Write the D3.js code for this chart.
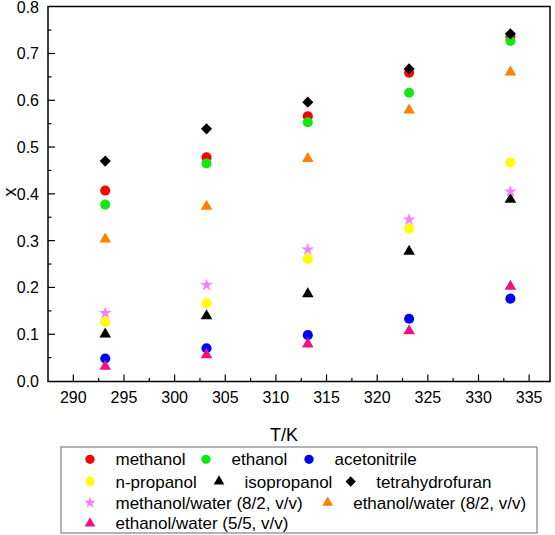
<!DOCTYPE html>
<html>
<head>
<meta charset="utf-8">
<script src="https://cdn.jsdelivr.net/npm/d3@7"></script>
<style>
  html, body { margin: 0; padding: 0; background: #fff; }
  text { font-family: "Liberation Sans", Arial, sans-serif; fill: #000; }
</style>
</head>
<body>
<svg id="chart" width="555" height="535"></svg>
<script>
// ---- data ----
const temperatures = [293.15, 303.15, 313.15, 323.15, 333.15];
const solvents = ["methanol", "ethanol", "acetonitrile", "n-propanol", "isopropanol",
  "tetrahydrofuran", "methanol/water (8/2, v/v)", "ethanol/water (8/2, v/v)", "ethanol/water (5/5, v/v)"];
const methanol      = [0.407, 0.478, 0.566, 0.659, 0.735];
const ethanol       = [0.377, 0.465, 0.553, 0.616, 0.727];
const acetonitrile  = [0.048, 0.070, 0.098, 0.133, 0.176];
const nPropanol     = [0.126, 0.166, 0.261, 0.326, 0.467];
const isopropanol   = [0.100, 0.139, 0.186, 0.277, 0.388];
const thf           = [0.470, 0.539, 0.596, 0.667, 0.742];
const methanolWater82 = [0.145, 0.205, 0.281, 0.345, 0.405];
const ethanolWater82  = [0.303, 0.373, 0.475, 0.579, 0.660];
const ethanolWater55  = [0.031, 0.056, 0.079, 0.107, 0.202];
const seriesValues = [methanol, ethanol, acetonitrile, nPropanol, isopropanol, thf,
  methanolWater82, ethanolWater82, ethanolWater55];
const xTicks = [290, 295, 300, 305, 310, 315, 320, 325, 330, 335];
const yTicks = [0.0, 0.1, 0.2, 0.3, 0.4, 0.5, 0.6, 0.7, 0.8];

// ---- styles ----
const colors = ["#ff0000", "#14e614", "#0000ff", "#ffff00", "#000000", "#000000", "#f582f5", "#ff8000", "#f0137f"];
const shapes = ["circle", "circle", "circle", "circle", "triangle", "diamond", "star", "triangle", "triangle"];

const svg = d3.select("#chart");
const L = 48, R = 550, T = 6.5, B = 381.5;
const x = d3.scaleLinear().domain([287.5, 337.06]).range([L, R]);
const y = d3.scaleLinear().domain([0, 0.8]).range([381, 6.7]);

function symbolPath(shape, big) {
  const k = big ? 1 : 0.85;
  if (shape === "circle") return d3.symbol(d3.symbolCircle, 80 * k)();
  if (shape === "triangle") return d3.symbol(d3.symbolTriangle, 58 * k)();
  if (shape === "diamond") return d3.symbol(d3.symbolSquare, 62 * k)();
  if (shape === "star") return d3.symbol(d3.symbolStar, 50 * k)();
}
function transformFor(shape, px, py) {
  return `translate(${px},${py})` + (shape === "diamond" ? " rotate(45)" : "");
}

// axes (ticks inward)
const xAxis = d3.axisBottom(x).tickValues(d3.range(287.5, 337.1, 2.5)).tickSize(0).tickFormat("");
const gx = svg.append("g");
d3.range(290, 337.1, 2.5).forEach(v => {
  const major = Math.abs(v % 5) < 1e-6;
  gx.append("line").attr("x1", x(v)).attr("x2", x(v))
    .attr("y1", B).attr("y2", B - (major ? 7 : 3.5))
    .attr("stroke", "#000").attr("stroke-width", 1.2);
});
gx.selectAll("text.xt").data(xTicks).enter().append("text")
  .attr("x", d => x(d)).attr("y", 403).attr("text-anchor", "middle")
  .attr("font-size", 16).text(d => d);

const gy = svg.append("g");
d3.range(0.05, 0.8, 0.05).forEach(v => {
  const major = Math.abs((v * 10) - Math.round(v * 10)) < 1e-6;
  gy.append("line").attr("x1", L).attr("x2", L + (major ? 7 : 3.5))
    .attr("y1", y(v)).attr("y2", y(v))
    .attr("stroke", "#000").attr("stroke-width", 1.2);
});
gy.selectAll("text.yt").data(yTicks).enter().append("text")
  .attr("x", 39).attr("y", d => y(d) + 6).attr("text-anchor", "end")
  .attr("font-size", 16).text(d => d.toFixed(1));

// frame
svg.append("rect").attr("x", L).attr("y", T).attr("width", R - L).attr("height", B - T)
  .attr("fill", "none").attr("stroke", "#000").attr("stroke-width", 1.5);

// axis titles
svg.append("text").attr("x", 284).attr("y", 441).attr("text-anchor", "middle")
  .attr("font-size", 18).text("T/K");
svg.append("text").attr("transform", "translate(16,192) rotate(-90)")
  .attr("text-anchor", "middle").attr("font-size", 18).text("x");

// points
seriesValues.forEach((vals, i) => {
  svg.append("g").selectAll("path").data(vals).enter().append("path")
    .attr("d", symbolPath(shapes[i], true))
    .attr("transform", (d, j) => transformFor(shapes[i], x(temperatures[j]), y(d)))
    .attr("fill", colors[i]);
});

// legend
const legendBox = { x: 61, y: 447, w: 476, h: 86 };
svg.append("rect").attr("x", legendBox.x).attr("y", legendBox.y)
  .attr("width", legendBox.w).attr("height", legendBox.h)
  .attr("fill", "#fff").attr("stroke", "#808080").attr("stroke-width", 1.2);
const legendRows = [459.3, 481.5, 502.7, 523.3];
const legendLayout = [
  [0, 90, 0], [0, 206, 1], [0, 309, 2],
  [1, 90, 3], [1, 219, 4], [1, 350.7, 5],
  [2, 90, 6], [2, 327.7, 7],
  [3, 90, 8]
];
legendLayout.forEach(([row, mx, i]) => {
  const cy = legendRows[row];
  svg.append("path").attr("d", symbolPath(shapes[i], false))
    .attr("transform", transformFor(shapes[i], mx, cy)).attr("fill", colors[i]);
  svg.append("text").attr("x", mx + 25.5).attr("y", cy + 6)
    .attr("font-size", 17).text(solvents[i]);
});
</script>
</body>
</html>
